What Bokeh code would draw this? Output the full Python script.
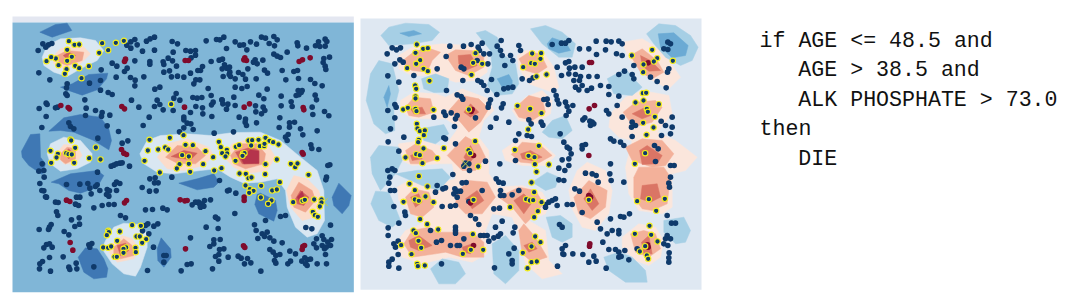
from bokeh.plotting import figure
from bokeh.layouts import row
from bokeh.models import Range1d
from bokeh.core.properties import value
from bokeh.embed import file_html
from bokeh.resources import INLINE

# ---------- left map: points (map units) ----------
left_members = [(205,122),(222,133),(236,132),(305,128),(346,127),(370,121),(296,157),(323,149),(200,148),(214,169),(200,181),(166,174),(152,170),(138,182),(174,194),(224,196),(236,203),(265,197),(198,206),(193,220),(243,233),
(512,311),(210,417),(212,420),(224,442),(286,441),(150,451),(172,460),(168,471),(197,458),(204,461),(214,462),(152,487),(221,487),(266,473),(300,477),
(447,418),(442,450),(432,481),(473,447),(494,441),(503,447),(508,412),(549,404),(555,433),(577,434),(545,464),(565,468),(537,491),(565,490),(529,504),(608,491),(615,452),(638,470),(569,514),(478,516),(641,510),(663,503),
(655,424),(661,440),(665,458),(679,448),(680,459),(675,468),(706,439),(716,434),(705,481),(744,420),(755,419),(752,435),(774,418),(778,437),(791,437),(795,412),(792,430),(807,421),(818,425),(834,432),(728,459),(732,458),(726,466),(795,491),(829,477),
(717,519),(736,520),(744,533),(753,531),(794,521),(871,490),(884,500),(891,489),(924,523),(838,545),(735,555),(748,566),(759,571),(746,577),(782,556),(815,570),(829,567),(781,591),(813,600),(803,610),
(878,605),(906,601),(913,598),(941,597),(963,597),(963,606),(958,618),(937,634),(943,644),(952,649),
(395,674),(421,676),(323,691),(325,695),(319,704),(358,693),(408,708),(418,708),(437,716),(350,721),(425,727),(308,741),(323,742),(332,738),(377,741),(369,745),(369,757),(405,742),(406,755),(342,769),(349,769)]

left_others = [(403,117),(462,110),(391,124),(449,115),(438,122),(515,123),(531,130),(617,121),(648,117),(658,118),(670,110),(783,110),(795,113),(820,108),(830,118),(974,116),(979,123),(954,124),(704,124),(718,134),(729,133),(750,124),(768,131),(806,129),(945,136),(958,138),(974,137),(890,127),(127,130),(144,133),(154,129),(113,150),(136,140),(379,134),(391,143),(410,133),(426,152),(462,149),(518,155),(556,150),(570,152),(585,150),(678,144),(739,148),(822,136),(860,155),(892,136),(918,143),
(403,181),(448,183),(448,191),(488,184),(490,192),(503,173),(516,181),(572,172),(585,164),(632,183),(656,179),(666,176),(672,193),(679,203),(606,198),(600,210),(764,178),(759,185),(770,190),(787,179),(820,161),(830,167),(840,171),(970,174),(987,170),(968,186),(974,197),(976,207),(335,188),(349,197),(380,203),(372,213),(302,208),(115,217),(148,238),(490,215),(507,211),(528,197),(570,218),(592,210),(665,205),(687,200),(688,215),(686,222),(714,216),(742,205),(792,209),(801,218),(845,210),(880,213),(891,210),
(347,230),(390,231),(404,239),(430,229),(513,229),(531,227),(550,230),(586,238),(598,238),(580,250),(668,228),(690,228),(704,235),(727,222),(735,236),(767,235),(856,238),(894,234),(930,237),(943,249),(965,256),(200,250),(198,262),(267,248),(300,240),(403,256),(463,266),(478,260),(623,264),(704,260),(724,264),(740,258),(800,266),(893,270),(905,270),
(300,269),(323,276),(335,282),(200,285),(253,298),(196,280),(527,279),(520,293),(538,299),(393,299),(470,299),(577,291),(590,293),(604,291),(632,285),(664,298),(700,290),(775,284),(790,295),(842,287),(887,285),(902,276),(895,283),(944,284),(948,298),
(116,324),(137,308),(140,312),(165,322),(171,320),(257,323),(285,330),(305,336),(328,344),(303,347),(255,345),(137,348),(415,320),(462,318),(478,312),(488,328),(518,330),(586,318),(570,336),(606,322),(607,340),(633,313),(638,305),(665,299),(667,310),(682,311),(678,326),(634,348),(704,315),(765,316),(766,334),(788,320),(793,330),(783,340),(842,316),(872,304),(875,318),(935,320),(937,342),(972,333),(985,346),(446,350),(550,350),(716,350),(838,352),
(550,358),(560,368),(571,370),(205,367),(210,378),(124,381),(220,385),(320,376),(428,375),(578,387),(550,382),(537,394),(735,356),(734,365),(738,375),(768,367),(836,381),(867,367),(882,365),(867,380),(863,402),(855,410),(900,385),(907,403),(950,391),(641,398),(699,394),(354,393),
(292,413),(382,421),(365,428),(931,433),(934,444),(955,447),(860,420),
(125,490),(130,510),(115,512),(131,530),(118,549),(130,571),(124,570),(135,589),(348,490),(358,488),(340,494),(332,497),(365,487),(387,497),(291,515),(988,493),(982,495),(978,530),(976,538),
(464,532),(448,535),(473,547),(462,547),(425,561),(447,572),(467,571),(514,530),(657,540),
(198,552),(238,551),(262,549),(268,563),(285,558),(298,570),(320,567),(327,571),(348,545),(358,549),(342,552),(348,570),(318,582),(325,587),(272,580),(238,590),(228,590),(165,605),(173,606),(138,590),(290,553),(686,569),(681,571),(706,578),
(225,611),(234,615),(280,622),(305,615),(325,612),(341,612),(435,628),(456,627),(487,623),(500,628),(575,613),(585,605),(594,605),(598,612),(605,610),(612,600),(630,598),(600,620),(610,617),(652,655),(645,650),(703,639),(168,634),(172,645),(795,660),(840,648),(855,645),(360,645),(375,652),
(116,687),(147,680),(152,672),(144,687),(213,658),(236,652),(237,671),(223,678),(191,693),(205,703),(435,675),(442,670),(460,677),(472,670),(426,691),(653,684),(617,680),(762,673),(767,690),(800,695),(785,700),(916,681),(934,685),(990,674),
(138,732),(130,742),(147,730),(155,740),(274,729),(265,733),(268,740),(445,700),(459,740),(570,712),(640,718),(659,717),(640,730),(628,738),(657,747),(670,745),(772,714),(792,708),(808,712),(820,722),(845,727),(940,730),(948,715),(965,706),(970,717),(965,735),(948,742),(972,745),(993,717),(982,725),(990,735),(977,740),(808,747),(818,755),(826,765),(838,762),(868,752),(885,760),(913,772),(921,778),(930,776),(975,762),
(147,771),(126,783),(188,769),(118,790),(117,805),(150,812),(205,800),(208,807),(227,788),(229,805),(280,799),(441,810),(490,765),(497,765),(490,785),(560,792),(572,790),(542,811),(636,805),(655,782),(645,768),(655,762),(683,770),(713,767),(722,773),(741,774),(732,790),(751,787),(781,812),(822,780),(826,788),(862,790),(870,782),(904,782),(920,795),(915,790),(950,790),(978,790)]

left_positive = [(375,176),(372,183),(554,180),(564,180),(733,172),(738,180),(730,178),(896,183),(906,178),(929,172),(181,315),(203,321),(207,325),(364,318),(372,325),(552,320),(731,320),(747,310),(908,321),(910,328),(363,447),(370,458),(378,462),(905,456),(908,461),(198,599),(208,603),(539,598),(553,601),(560,600),(378,600),(372,607),(731,590),(731,600),(209,726),(217,749),(555,745),(729,736),(733,741),(907,738),(905,747),(912,735)]

left_cross = [(970,605)]

# ---------- left map: filled score levels ----------
left_level_dark = [
 [(118,95),(165,72),(200,68),(214,90),(155,110)],
 [(180,260),(215,250),(265,222),(322,218),(318,235),(290,268),(245,284),(210,272)],
 [(145,392),(190,352),(240,342),(300,350),(325,385),(333,420),(325,448),(280,420),(220,395),(180,390)],
 [(63,452),(90,402),(118,400),(120,470),(135,490),(125,522),(85,495),(65,470)],
 [(152,545),(210,520),(290,510),(310,525),(290,560),(240,578),(205,570),(175,550)],
 [(535,548),(590,535),(640,520),(655,545),(640,560),(590,568)],
 [(763,612),(770,582),(780,578),(825,600),(830,630),(820,662),(795,650),(775,640)],
 [(995,590),(1015,548),(1052,585),(1045,615),(1025,640),(1000,615)],
 [(233,770),(255,742),(290,745),(310,775),(322,805),(318,830),(280,835),(250,815)],
 [(470,745),(482,712),(510,745),(512,770),(490,800),(472,780)]]
left_level_pale = [
 [(125,170),(140,135),(180,115),(240,112),(285,120),(310,150),(290,180),(240,205),(200,228),(160,215),(130,195)],
 [(140,460),(150,430),(190,410),(240,420),(275,460),(270,485),(230,505),(180,512),(150,490)],
 [(315,720),(340,680),(370,668),(415,672),(440,700),(440,740),(420,800),(405,827),(370,820),(335,790),(305,745)],
 [(418,460),(440,420),(480,405),(560,400),(630,405),(700,396),(780,395),(840,420),(900,470),(950,510),(970,570),(972,660),(950,700),(920,710),(885,680),(860,620),(855,570),(830,535),(780,545),(730,548),(690,530),(650,505),(600,510),(520,520),(470,515),(430,490)]]
left_level_peach = [
 [(155,170),(180,145),(240,130),(270,160),(240,190),(190,205),(160,190)],
 [(165,462),(190,432),(230,435),(245,465),(225,490),(190,490)],
 [(335,730),(365,705),(395,715),(415,745),(400,775),(350,785),(325,755)],
 [(470,470),(500,430),(560,415),(625,440),(640,465),(610,495),(550,510),(500,505)],
 [(670,470),(695,430),(750,415),(800,430),(825,470),(800,510),(740,520),(700,500)],
 [(858,570),(880,525),(920,535),(955,570),(965,610),(945,650),(905,660),(870,620)]]
left_level_salmon = [
 [(170,165),(200,150),(250,155),(245,180),(200,195),(175,185)],
 [(180,460),(200,440),(225,445),(225,475),(195,490),(180,478)],
 [(340,740),(370,715),(395,735),(400,765),(360,775),(340,760)],
 [(495,470),(530,435),(590,440),(615,465),(585,490),(530,488)],
 [(690,465),(720,430),(770,430),(795,460),(790,490),(735,505),(700,490)],
 [(872,585),(895,545),(935,570),(945,600),(915,635),(880,620)]]
left_level_red = [
 [(188,165),(205,155),(225,165),(205,180)],
 [(190,458),(205,445),(218,460),(205,475)],
 [(350,735),(375,728),(385,750),(360,765)],
 [(512,468),(550,450),(590,458),(570,478),(530,472)],
 [(705,455),(750,440),(775,450),(775,490),(725,490)],
 [(885,595),(900,570),(925,590),(910,615),(890,610)]]
left_level_deep = [
 [(720,470),(750,448),(775,452),(775,488),(730,490)],
 [(890,590),(905,572),(915,600),(900,610)]]

# ---------- right map: points (map units) ----------
right_members = [(184,132),(203,145),(217,143),(180,157),(194,179),(182,190),(155,203),(204,205),(217,212),(360,158),(353,187),(380,190),(348,223),
(530,159),(557,158),(555,175),(527,188),(538,190),(503,200),(543,228),(573,222),
(829,165),(890,148),(905,173),(895,183),(864,192),(863,215),(952,181),
(222,241),(179,255),(182,265),(180,288),(180,294),(143,327),(157,322),(180,325),(183,332),(234,328),(340,327),
(486,316),(524,325),(558,338),(862,278),(872,277),(840,306),(864,300),(910,311),(874,325),(877,334),(898,349),(863,367),(894,381),
(518,387),(184,370),(186,384),(193,392),(208,390),(205,404),(190,418),(188,425),(873,403),
(359,422),(339,449),(344,458),(204,444),(265,443),(182,461),(193,464),(150,471),(245,473),(201,488),(368,498),(478,448),(550,436),(519,466),(537,470),(538,491),(580,492),(543,514),(869,458),(838,490),
(190,527),(162,550),(216,558),(178,569),(528,546),(536,575),(210,588),(178,597),(190,601),(144,604),(234,605),(354,598),(512,596),(523,600),(533,599),(558,605),(700,598),(845,602),(880,596),(928,595),(464,620),(547,632),(536,650),(902,631),
(194,656),(215,671),(248,687),(174,690),(181,698),(352,701),(189,721),(197,742),(137,734),(168,761),(346,748),(383,748),(322,760),(882,676),(838,700),(887,703),(906,723),(869,737),(853,753),(874,765),(878,775),(539,708),(555,725),(528,738),(502,757),(528,785),(544,783),(516,803),(185,790),(187,797),(208,795)]

right_others = [(95,160),(110,142),(123,148),(135,142),(118,190),(133,178),(143,185),(175,225),(245,205),(283,137),(324,137),(347,132),(368,140),(380,128),(372,150),(402,160),(385,160),(437,120),(425,137),(435,150),(440,165),(490,135),(495,150),(590,132),(618,128),(630,128),(640,120),(672,145),(700,145),(722,122),(752,122),(767,124),(790,122),(800,130),(750,148),(723,162),(783,160),(800,165),(937,125),(945,130),(925,145),(937,147),
(272,168),(317,200),(325,205),(397,190),(365,180),(465,165),(472,180),(448,195),(630,187),(640,183),(605,200),(642,203),(658,200),(680,200),(640,220),(618,225),(660,222),(675,228),(700,228),(725,228),(672,240),(655,240),(660,260),(680,255),(670,268),(695,270),(708,263),(735,255),(760,258),(790,222),(835,195),(830,222),(807,212),(940,205),(936,215),(905,243),(932,262),(885,230),(835,235),
(97,226),(130,245),(322,240),(367,240),(377,245),(385,255),(408,237),(395,270),(445,265),(458,262),(472,260),(424,282),(533,232),(500,235),(522,240),(595,270),(602,285),(605,298),(610,310),(273,270),(305,283),(317,288),(322,296),(405,298),
(575,296),(565,297),(578,312),(630,305),(635,318),(652,315),(640,332),(632,345),(790,287),(760,282),(785,315),(760,340),(753,330),(800,350),(688,352),(682,358),(710,365),(705,375),(715,370),(703,362),(950,350),(950,380),(930,375),(917,362),(830,365),(840,375),(828,380),
(97,330),(118,312),(122,320),(118,352),(105,385),(98,424),(145,410),(235,350),(265,335),(270,345),(287,337),(305,345),(300,355),(297,378),(265,412),(270,415),(360,352),(400,310),(398,320),(438,322),(443,310),(422,353),(405,380),(460,365),(520,358),(527,370),(557,365),(562,374),(490,400),(515,405),(528,408),(480,420),(625,425),(614,400),(635,440),(642,445),(647,460),(640,475),(620,478),(680,435),(690,432),(680,445),(765,415),(775,422),(795,425),(805,435),(830,408),(918,405),(945,400),(897,435),(908,445),
(130,452),(300,430),(390,482),(342,510),(330,488),(325,497),(340,490),(480,480),(433,490),(610,503),(628,510),(640,495),(765,490),(763,520),(767,540),(805,545),(690,518),(710,520),(722,525),(728,545),(945,495),(956,495),(945,530),(940,548),(942,560),(900,483),
(97,510),(110,505),(103,530),(118,510),(100,548),(292,522),(245,555),(270,562),(240,575),(262,565),(298,565),(305,572),(295,580),(320,547),(332,546),(315,572),(422,535),(430,545),(443,548),(435,570),(445,585),(470,583),(490,570),(380,570),(625,540),(610,538),(658,565),(672,572),(105,570),(117,570),(115,618),(148,635),(150,645),(260,618),(285,617),(300,615),(305,590),(340,603),(345,645),(360,655),(415,625),(432,623),(435,585),(570,612),(580,605),(590,600),(600,595),(605,615),(570,620),(635,612),(650,612),(680,636),(725,665),(765,655),(795,648),(805,650),(822,640),(935,645),(948,668),(960,668),
(130,668),(98,682),(98,705),(128,722),(115,730),(120,740),(225,690),(300,680),(300,690),(300,698),(258,720),(243,725),(285,735),(305,735),(312,735),(325,715),(370,672),(375,705),(385,705),(395,705),(415,712),(428,707),(435,700),(400,722),(420,680),(440,662),(478,680),(473,697),(612,672),(620,680),(735,685),(770,690),(790,690),(755,700),(790,700),(742,725),(935,705),(930,715),(945,715),(925,730),(937,735),
(128,762),(110,776),(100,785),(100,797),(130,803),(258,790),(417,802),(476,743),(460,760),(470,780),(470,790),(606,797),(620,745),(630,735),(622,760),(652,760),(625,762),(682,762),(700,785),(722,782),(715,767),(760,747),(780,747),(790,755),(790,770),(797,768),(808,750),(820,778),(752,803),(845,745),(941,757),(940,772),(940,785)]

right_positive = [(702,186),(708,186),(701,325),(717,315),(700,465),(702,737),(703,730),(347,333),(350,327),(354,465),(345,607),(354,735),(876,733),(878,740),(878,187),(700,585),(705,590)]

right_cross = [(330,490)]

# ---------- right map: filled score levels ----------
right_level_peach = [
 [(130,165),(170,140),(260,130),(340,135),(395,160),(395,215),(360,240),(300,245),(245,225),(170,225),(130,205)],
 [(135,300),(175,275),(240,280),(270,290),(320,265),(400,295),(415,330),(385,360),(370,410),(400,450),(400,520),(430,560),(500,555),(560,575),(580,610),(570,640),(520,660),(570,690),(580,780),(620,820),(560,835),(510,790),(490,700),(470,650),(410,640),(390,690),(395,760),(350,785),(280,770),(200,790),(140,770),(120,730),(150,690),(200,670),(170,640),(130,600),(125,560),(175,530),(265,545),(300,535),(290,490),(250,490),(170,495),(120,470),(130,430),(200,420),(270,440),(285,415),(310,380),(270,355),(170,355),(135,330)],
 [(440,450),(490,415),(550,420),(600,465),(570,495),(500,495),(450,480)],
 [(470,330),(510,290),(560,270),(590,300),(585,340),(540,370),(490,360)],
 [(485,165),(510,150),(560,150),(595,200),(610,260),(590,275),(520,250),(490,205)],
 [(800,125),(860,115),(920,150),(975,230),(940,265),(880,235),(820,175)],
 [(765,340),(810,290),(860,270),(940,285),(950,340),(905,395),(960,420),(1025,470),(990,510),(950,520),(950,620),(920,640),(850,630),(820,580),(810,500),(830,420),(790,410),(760,380)],
 [(640,570),(665,510),(695,485),(750,510),(770,570),(760,640),(720,690),(680,680),(650,625)],
 [(800,710),(850,670),(900,680),(925,720),(915,770),(880,795),(840,780),(800,740)]]
right_level_light = [
 [(76,105),(100,80),(150,68),(220,72),(252,95),(230,120),(170,130),(100,135)],
 [(362,97),(390,90),(425,110),(440,160),(480,190),(490,250),(470,280),(420,285),(395,255),(410,200),(405,150)],
 [(525,85),(570,75),(620,95),(660,130),(650,170),(610,170),(560,130)],
 [(873,100),(910,70),(960,75),(1005,105),(1028,140),(1010,180),(975,195),(930,170),(895,130)],
 [(32,300),(45,220),(70,180),(110,190),(130,270),(115,330),(118,390),(90,400),(55,370)],
 [(198,235),(240,220),(280,235),(275,275),(235,276),(205,265)],
 [(755,235),(810,205),(840,240),(860,260),(830,285),(775,280)],
 [(560,395),(590,360),(630,345),(650,390),(620,415),(580,410)],
 [(195,385),(265,372),(280,400),(240,430),(205,420)],
 [(45,470),(70,435),(130,440),(140,480),(120,520),(75,570),(50,520)],
 [(120,520),(180,510),(260,505),(285,530),(250,570),(200,555)],
 [(530,545),(575,515),(610,530),(600,560),(570,570)],
 [(46,610),(60,572),(100,575),(115,610),(135,660),(110,680),(70,660)],
 [(572,650),(615,645),(650,670),(650,710),(620,725),(590,710)],
 [(925,660),(985,650),(1005,690),(990,725),(960,730),(925,695)],
 [(410,730),(450,705),(490,750),(490,810),(450,850),(415,820)],
 [(225,805),(260,775),(310,785),(330,820),(300,850),(250,850)],
 [(745,770),(790,755),(830,770),(870,810),(875,845),(810,845),(760,810)]]
right_level_blue = [
 [(133,98),(175,90),(198,100),(160,108)],
 [(575,130),(590,112),(630,125),(645,150),(610,158),(580,145)],
 [(908,100),(955,97),(998,135),(990,165),(950,172),(915,140)],
 [(85,290),(100,255),(105,280),(95,320)],
 [(425,235),(460,222),(470,240),(470,260),(440,260)]]
right_level_salmon = [
 [(148,175),(180,150),(225,145),(255,155),(230,180),(215,215),(170,210),(150,200)],
 [(270,165),(300,148),(350,150),(385,170),(385,200),(340,225),(300,210)],
 [(490,175),(520,155),(555,160),(575,200),(545,220),(510,210)],
 [(825,165),(860,145),(905,180),(925,215),(890,235),(855,215)],
 [(150,320),(175,290),(225,295),(235,335),(190,350),(160,345)],
 [(280,330),(320,285),(370,295),(400,325),(375,365),(340,395),(315,365)],
 [(475,325),(520,285),(560,295),(570,335),(530,360),(490,350)],
 [(803,335),(840,305),(900,300),(920,320),(890,365),(850,375),(820,360)],
 [(150,450),(180,430),(230,450),(250,475),(200,490),(165,490)],
 [(275,465),(330,408),(370,430),(390,470),(360,510),(320,510)],
 [(467,462),(500,425),(550,430),(590,465),(545,490),(495,485)],
 [(810,440),(860,415),(920,420),(955,460),(930,495),(890,500),(830,480)],
 [(835,530),(850,500),(925,500),(945,530),(935,610),(890,630),(860,625),(835,590)],
 [(150,590),(175,565),(220,575),(235,620),(200,650),(165,640)],
 [(305,575),(340,540),(395,545),(420,590),(380,640),(330,640),(300,610)],
 [(430,590),(490,560),(540,570),(565,610),(530,650),(510,670),(470,620)],
 [(655,590),(700,540),(755,570),(750,620),(705,655),(670,640)],
 [(145,730),(170,690),(220,680),(250,695),(310,695),(350,695),(385,725),(385,770),(320,770),(270,755),(240,760),(170,770)],
 [(490,690),(505,670),(540,710),(575,770),(530,785),(500,760)],
 [(825,700),(865,690),(900,700),(915,745),(880,770),(840,755)]]
right_level_red = [
 [(308,165),(345,162),(365,195),(330,210),(310,190)],
 [(160,720),(190,705),(230,735),(190,750),(165,740)],
 [(325,335),(345,310),(370,335),(345,350)],
 [(830,340),(870,320),(885,345),(860,355)],
 [(855,165),(885,180),(915,210),(880,212),(860,195)],
 [(852,450),(875,435),(920,465),(905,490),(860,492)],
 [(860,555),(905,550),(915,590),(885,605),(855,595)],
 [(685,595),(705,565),(730,610),(710,630)],
 [(495,460),(525,450),(560,470),(530,480),(500,475)],
 [(475,600),(505,580),(530,605),(505,640)],
 [(330,595),(365,570),(385,600),(350,625)],
 [(325,470),(345,435),(360,465),(340,490)],
 [(505,735),(530,725),(545,745),(520,755)],
 [(858,725),(880,705),(890,760),(865,760)],
 [(320,740),(350,730),(345,760),(325,755)],
 [(165,590),(190,580),(200,605),(180,620)],
 [(165,465),(190,455),(200,475),(170,480)],
 [(165,325),(200,320),(210,340),(175,340)]]

# ---------- explanation text ----------
rule_lines = ["if AGE <= 48.5 and", "AGE > 38.5 and", "ALK PHOSPHATE > 73.0", "then", "DIE"]
rule_indent = [0, 3, 3, 0, 3]

# ---------- colours and frame ----------
NAVY, MAROON = "#0f3a6b", "#7f0b2c"
DEEP_BLUE, MID_BLUE, SKY, BG_RIGHT, PALE = "#3f78b4", "#6baad4", "#a6cfe5", "#dfe8f2", "#d9e7f2"
BG_LEFT = "#80b6d7"
PEACH, LT_PEACH, SALMON, RED, DEEP = "#fbdccb", "#fbe6dc", "#f0a58c", "#d0605a", "#b5344c"
SALMON_R, RED_R = "#f3b19a", "#da7565"
HEIGHT = 297
YTOP, YBOT = 0, HEIGHT * 3


def make_map(width, x0):
    p = figure(width=width, height=HEIGHT, x_range=Range1d(x0, x0 + width * 3),
               y_range=Range1d(YBOT, YTOP), toolbar_location=None, output_backend="svg",
               min_border=0, outline_line_color=None)
    p.axis.visible = False
    p.grid.visible = False
    return p


def fill(p, polys, color):
    p.patches([[c[0] for c in poly] for poly in polys],
              [[c[1] for c in poly] for poly in polys],
              fill_color=color, line_color=color, line_width=0.5)


def dots(p, pts, **kw):
    p.scatter([c[0] for c in pts], [c[1] for c in pts], **kw)


def points(p, others, positive, members, cross):
    dots(p, others, size=5.6, fill_color=NAVY, line_color=None)
    dots(p, positive, size=5.6, fill_color=MAROON, line_color=None)
    dots(p, cross, marker="x", size=11, line_color="#c3d04c", line_width=1)
    dots(p, members, size=5.4, fill_color=NAVY, line_color="#f5f01e", line_width=1.1)


p1 = make_map(357, 0)
p1.quad(left=[36], right=[1060], top=[48], bottom=[66], fill_color="#e4e7f1", line_color=None)
p1.quad(left=[36], right=[1060], top=[66], bottom=[875], fill_color=BG_LEFT, line_color=None)
fill(p1, left_level_dark, DEEP_BLUE)
fill(p1, left_level_pale, PALE)
fill(p1, left_level_peach, PEACH)
fill(p1, left_level_salmon, SALMON)
fill(p1, left_level_red, RED)
fill(p1, left_level_deep, DEEP)
points(p1, left_others, left_positive, left_members, left_cross)

p2 = make_map(348, 6)
p2.quad(left=[15], right=[1038], top=[54], bottom=[868], fill_color=BG_RIGHT, line_color=None)
fill(p2, right_level_peach, LT_PEACH)
fill(p2, right_level_light, SKY)
fill(p2, right_level_blue, MID_BLUE)
fill(p2, right_level_salmon, SALMON_R)
fill(p2, right_level_red, RED_R)
points(p2, right_others, right_positive, right_members, right_cross)

p3 = figure(width=375, height=HEIGHT, x_range=Range1d(705, 1080), y_range=Range1d(297, 0),
            toolbar_location=None, output_backend="svg", min_border=0, outline_line_color=None)
p3.axis.visible = False
p3.grid.visible = False
char_w = 12.95
p3.text(x=[759 + n * char_w for n in rule_indent], y=[40 + 29.5 * i for i in range(len(rule_lines))],
        text=rule_lines, text_font=value("Liberation Mono"), text_font_size="21.6px",
        text_color="#111111", text_baseline="alphabetic", text_align="left")

open("out.html", "w").write(file_html(row(p1, p2, p3), INLINE))
